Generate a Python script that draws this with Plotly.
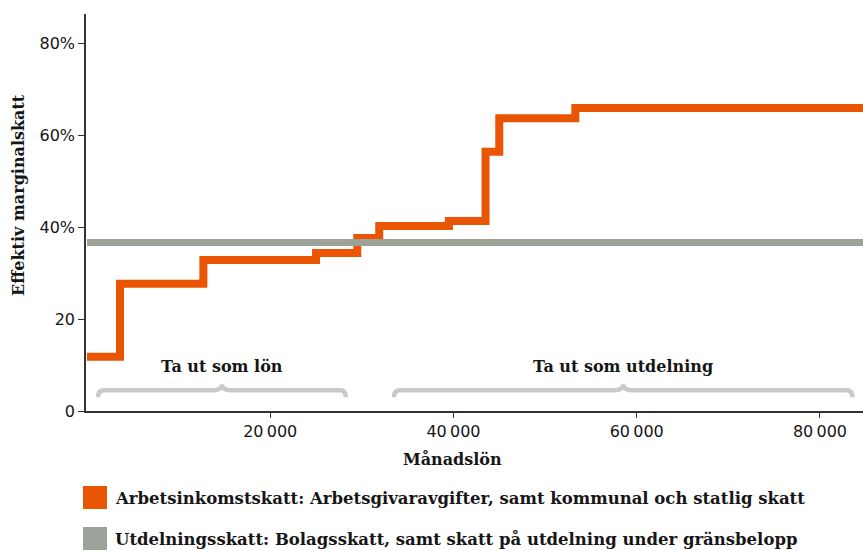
import plotly.graph_objects as go

# Monthly salary (SEK) where the effective marginal tax rate on salary changes
salary_breaks = [0, 3600, 12700, 25000, 29500, 31900, 39500, 43500, 45000, 53300, 85000]
# Effective marginal tax (%) on salary from each break onwards
salary_rates = [11.8, 27.7, 32.9, 34.4, 37.7, 40.3, 41.4, 56.5, 63.8, 66.0, 66.0]

# Dividend taxation is flat across the salary range
dividend_range = [0, 85000]
dividend_rate = [36.7, 36.7]

series_names = [
    "Arbetsinkomstskatt: Arbetsgivaravgifter, samt kommunal och statlig skatt",
    "Utdelningsskatt: Bolagsskatt, samt skatt på utdelning under gränsbelopp",
]

x_tick_vals = [20000, 40000, 60000, 80000]
x_tick_text = ["20\u2009000", "40\u2009000", "60\u2009000", "80\u2009000"]
y_tick_vals = [0, 20, 40, 60, 80]
y_tick_text = ["0", "20", "40%", "60%", "80%"]

# Salary spans annotated with braces
brace_spans = [(1200, 28250), (33500, 83550)]
brace_labels = ["Ta ut som lön", "Ta ut som utdelning"]

ORANGE = "#EA5504"
GREY = "#9CA297"
BRACE = "#C9C9C9"
INK = "#161616"
SERIF = "DejaVu Serif"
SANS = "DejaVu Sans"

W, H = 863, 551
M_L, M_R, M_T, M_B = 86, 0, 14, 140
X_RANGE = [-110, 84700]
Y_RANGE = [0, 86.5]
plot_w = W - M_L - M_R
plot_h = H - M_T - M_B
x_per_px = (X_RANGE[1] - X_RANGE[0]) / plot_w
y_per_px = (Y_RANGE[1] - Y_RANGE[0]) / plot_h


def px_to_paper(px, py):
    return (px - M_L) / plot_w, (H - M_B - py) / plot_h


def brace_path(x0, x1, y_top, drop_px=7, rise_px=6, r_px=6, cusp_px=9):
    xm = (x0 + x1) / 2
    rx = r_px * x_per_px
    cx = cusp_px * x_per_px
    y_base = y_top - drop_px * y_per_px
    y_peak = y_top + rise_px * y_per_px
    return (
        f"M {x0},{y_base} Q {x0},{y_top} {x0 + rx},{y_top} "
        f"L {xm - cx},{y_top} Q {xm},{y_top} {xm},{y_peak} "
        f"Q {xm},{y_top} {xm + cx},{y_top} "
        f"L {x1 - rx},{y_top} Q {x1},{y_top} {x1},{y_base}"
    )


fig = go.Figure()
fig.add_trace(go.Scatter(
    x=salary_breaks, y=salary_rates, mode="lines", line_shape="hv",
    line=dict(color=ORANGE, width=8), name=series_names[0],
    showlegend=False, hoverinfo="skip",
))
fig.add_trace(go.Scatter(
    x=dividend_range, y=dividend_rate, mode="lines",
    line=dict(color=GREY, width=7), name=series_names[1],
    showlegend=False, hoverinfo="skip",
))

shapes = []
annotations = []
brace_top = 4.5
for (x0, x1), label in zip(brace_spans, brace_labels):
    shapes.append(dict(type="path", xref="x", yref="y",
                       path=brace_path(x0, x1, brace_top),
                       line=dict(color=BRACE, width=4.5)))
    annotations.append(dict(x=(x0 + x1) / 2, y=9.8, xref="x", yref="y",
                            text=f"<b>{label}</b>", showarrow=False,
                            xanchor="center", yanchor="middle",
                            font=dict(family=SERIF, size=16, color=INK)))

# Legend swatches and labels below the chart
for i, (name, colour) in enumerate(zip(series_names, [ORANGE, GREY])):
    top = 486 + i * 41
    x0, y0 = px_to_paper(83, top)
    x1, y1 = px_to_paper(107, top + 23)
    shapes.append(dict(type="rect", xref="paper", yref="paper",
                       x0=x0, x1=x1, y0=y1, y1=y0,
                       fillcolor=colour, line=dict(width=0)))
    tx, ty = px_to_paper(113, top + 12)
    annotations.append(dict(x=tx, y=ty, xref="paper", yref="paper",
                            text=f"<b>{name}</b>", showarrow=False,
                            xanchor="left", yanchor="middle",
                            font=dict(family=SERIF, size=16.5, color=INK)))

# Axis titles
ax, ay = px_to_paper(452, 459)
annotations.append(dict(x=ax, y=ay, xref="paper", yref="paper",
                        text="<b>Månadslön</b>", showarrow=False,
                        xanchor="center", yanchor="middle",
                        font=dict(family=SERIF, size=16, color=INK)))
yx, yy = px_to_paper(19, 195)
annotations.append(dict(x=yx, y=yy, xref="paper", yref="paper",
                        text="<b>Effektiv marginalskatt</b>", showarrow=False,
                        textangle=-90, xanchor="center", yanchor="middle",
                        font=dict(family=SERIF, size=16, color=INK)))

fig.update_layout(
    width=W, height=H,
    margin=dict(l=M_L, r=M_R, t=M_T, b=M_B),
    paper_bgcolor="white", plot_bgcolor="white",
    shapes=shapes, annotations=annotations,
    showlegend=False,
)
fig.update_xaxes(
    range=X_RANGE, showgrid=False, zeroline=False,
    showline=True, linecolor="#333333", linewidth=1.5,
    ticks="outside", ticklen=5, tickwidth=1.2, tickcolor="#333333",
    tickvals=x_tick_vals, ticktext=x_tick_text,
    tickfont=dict(family=SANS, size=16, color=INK),
)
fig.update_yaxes(
    range=Y_RANGE, showgrid=False, zeroline=False,
    showline=True, linecolor="#333333", linewidth=1.5,
    ticks="outside", ticklen=6, tickwidth=1.2, tickcolor="#333333",
    tickvals=y_tick_vals, ticktext=y_tick_text,
    tickfont=dict(family=SANS, size=16, color=INK),
)

fig.write_html("out.html")
